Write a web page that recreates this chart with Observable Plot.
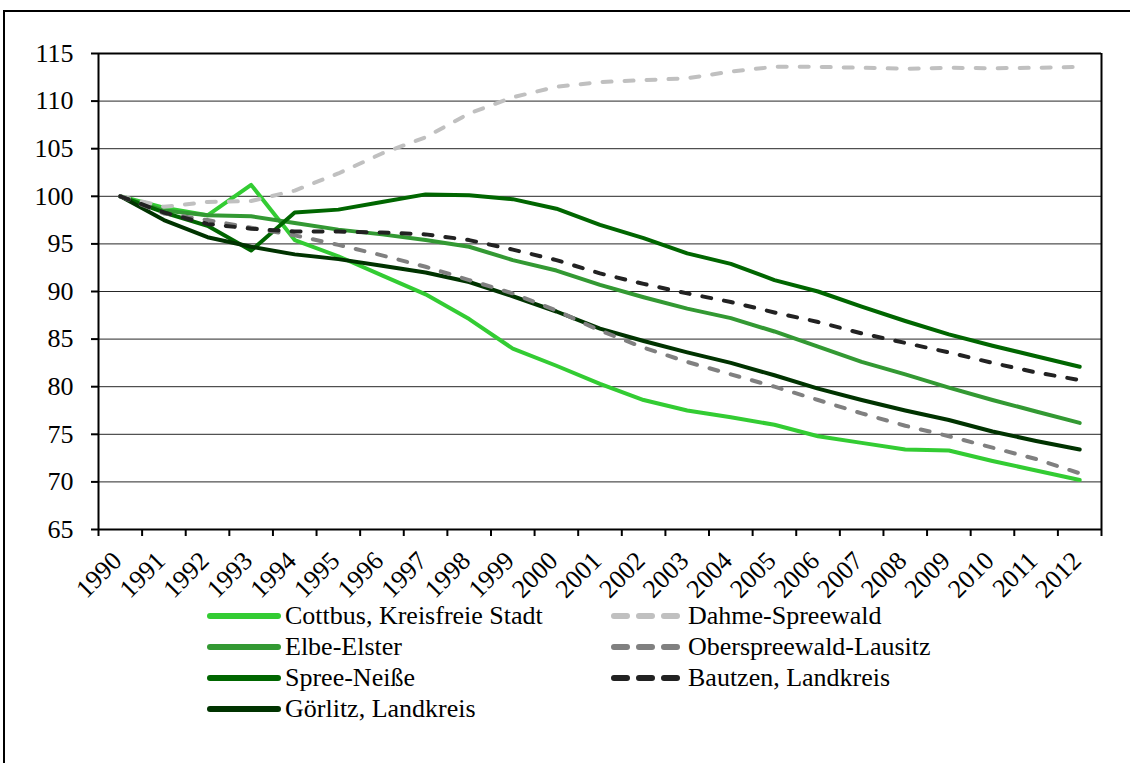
<!DOCTYPE html>
<html>
<head>
<meta charset="utf-8">
<script src="https://cdn.jsdelivr.net/npm/d3@7"></script>
<script src="https://cdn.jsdelivr.net/npm/@observablehq/plot@0.6"></script>
<style>
  html, body { margin: 0; padding: 0; background: #fff; }
  #wrap { position: relative; width: 1130px; height: 763px; overflow: hidden; }
  #frame { position: absolute; left: 3px; top: 10px; width: 1140px; height: 800px; border-left: 2px solid #000; border-top: 2px solid #000; box-sizing: border-box; }
  #chart { position: absolute; left: 0; top: 0; }
  .leg { position: absolute; font-size: 26px; line-height: 31px; height: 31px; white-space: nowrap; color: #000; display: flex; align-items: center; }
  .leg svg { margin-right: 3px; }
</style>
</head>
<body>
<div id="wrap">
  <div id="frame"></div>
  <div id="chart"></div>
  <div id="legend"></div>
</div>
<script>
const years = [1990,1991,1992,1993,1994,1995,1996,1997,1998,1999,2000,2001,2002,2003,2004,2005,2006,2007,2008,2009,2010,2011,2012];
const seriesNames = ["Cottbus, Kreisfreie Stadt","Elbe-Elster","Spree-Neiße","Görlitz, Landkreis","Dahme-Spreewald","Oberspreewald-Lausitz","Bautzen, Landkreis"];
const cottbus  = [100,98.8,98.0,101.2,95.4,93.7,91.7,89.7,87.1,84.0,82.2,80.3,78.6,77.5,76.8,76.0,74.8,74.1,73.4,73.3,72.2,71.2,70.2];
const elbe     = [100,98.5,98.0,97.9,97.2,96.5,96.0,95.4,94.7,93.3,92.2,90.7,89.4,88.2,87.2,85.8,84.2,82.6,81.3,79.9,78.6,77.4,76.2];
const spree    = [100,98.3,96.9,94.3,98.3,98.6,99.4,100.2,100.1,99.7,98.7,97.0,95.6,94.0,92.9,91.2,90.0,88.4,86.9,85.5,84.3,83.2,82.1];
const goerlitz = [100,97.5,95.7,94.7,93.9,93.4,92.7,92.0,91.0,89.5,87.9,86.1,84.8,83.6,82.5,81.2,79.8,78.6,77.5,76.5,75.3,74.3,73.4];
const dahme    = [100,98.9,99.4,99.5,100.6,102.4,104.5,106.2,108.7,110.4,111.5,112.0,112.2,112.4,113.1,113.6,113.6,113.5,113.4,113.5,113.45,113.5,113.6];
const osl      = [100,98.2,97.5,96.7,95.9,94.9,93.8,92.6,91.2,89.8,88.0,85.9,84.1,82.6,81.3,80.0,78.6,77.2,75.9,74.8,73.6,72.4,70.9];
const bautzen  = [100,98.3,97.1,96.6,96.3,96.3,96.2,96.0,95.4,94.4,93.3,91.9,90.8,89.8,88.9,87.8,86.8,85.6,84.6,83.6,82.5,81.5,80.7];
const yTicks = [65,70,75,80,85,90,95,100,105,110,115];

const seriesValues = [cottbus, elbe, spree, goerlitz, dahme, osl, bautzen];
const seriesColors = ["#33cc33","#339933","#006600","#003300","#c0c0c0","#808080","#222222"];
const seriesDashed = [false,false,false,false,true,true,true];

const boundaries = years.map(y => y - 0.5).concat([years[years.length-1] + 0.5]);
const x0 = years[0] - 0.5, x1 = years[years.length-1] + 0.5;
const FONT = '"Liberation Serif", Tinos, "Times New Roman", serif';

const lineMarks = seriesNames.map((name, i) => {
  const data = years.map((yr, j) => ({year: yr, value: seriesValues[i][j], name}));
  return Plot.line(data, {
    x: "year", y: "value",
    stroke: seriesColors[i], strokeWidth: 4,
    strokeLinejoin: "round", strokeLinecap: "round",
    strokeDasharray: seriesDashed[i] ? "9,13" : null
  });
});

const chart = Plot.plot({
  width: 1130,
  height: 620,
  marginLeft: 98,
  marginRight: 29,
  marginTop: 53,
  marginBottom: 91,
  style: {fontFamily: FONT, fontSize: "26px", color: "#000", background: "transparent", overflow: "visible"},
  x: {domain: [x0, x1]},
  y: {domain: [65, 115]},
  marks: [
    Plot.gridY(yTicks, {stroke: "#000", strokeOpacity: 0.85, strokeWidth: 1}),
    Plot.ruleY([115], {stroke: "#000", strokeWidth: 2}),
    Plot.ruleX([x1], {stroke: "#000", strokeWidth: 2}),
    ...lineMarks,
    Plot.ruleX([x0], {stroke: "#000", strokeWidth: 2}),
    Plot.ruleY([65], {stroke: "#000", strokeWidth: 2}),
    Plot.axisY(yTicks, {tickSize: 7, tickPadding: 18, strokeWidth: 2, fontSize: 26, label: null, tickFormat: d => String(d)}),
    Plot.axisX(boundaries, {tickSize: 7, strokeWidth: 2, tickFormat: () => "", label: null}),
    Plot.axisX(years, {tickSize: 0, tickPadding: 12, tickRotate: -45, dx: -3, dy: 15, fontSize: 26, label: null, tickFormat: d => String(d)})
  ]
});
document.getElementById("chart").appendChild(chart);

// legend
const legendPos = [
  {left: 206, top: 600}, {left: 206, top: 631}, {left: 206, top: 662}, {left: 206, top: 693},
  {left: 606, top: 600}, {left: 606, top: 631}, {left: 606, top: 662}
];
const legend = document.getElementById("legend");
seriesNames.forEach((name, i) => {
  const div = document.createElement("div");
  div.className = "leg";
  div.style.fontFamily = FONT;
  div.style.left = legendPos[i].left + "px";
  div.style.top = legendPos[i].top + "px";
  const dashed = seriesDashed[i];
  const line = dashed
    ? `<line x1="8" y1="6" x2="72" y2="6" stroke="${seriesColors[i]}" stroke-width="6" stroke-linecap="round" stroke-dasharray="13,12"/>`
    : `<line x1="4" y1="6" x2="72" y2="6" stroke="${seriesColors[i]}" stroke-width="6" stroke-linecap="round"/>`;
  div.innerHTML = `<svg width="76" height="12">${line}</svg><span style="margin-left:${dashed ? 3 : 0}px">${name}</span>`;
  legend.appendChild(div);
});
</script>
</body>
</html>
